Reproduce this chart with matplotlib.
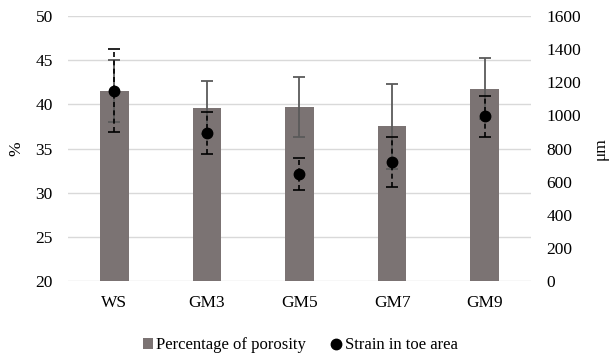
import numpy as np
import matplotlib
matplotlib.use('Agg')
import matplotlib.pyplot as plt
from matplotlib.lines import Line2D
from matplotlib.patches import Patch

# data
groups = ['WS', 'GM3', 'GM5', 'GM7', 'GM9']
porosity = [41.5, 39.6, 39.7, 37.5, 41.8]
porosity_err = [3.5, 3.0, 3.4, 4.8, 3.5]
strain = [1150, 895, 648, 720, 996]
strain_err = [250, 125, 96, 151, 124]

plt.rcParams['font.family'] = ['Liberation Serif', 'DejaVu Serif']
fs = 12.5

bar_color = '#7b7373'
err_color = '#5a5a5a'
grid_color = '#d9d9d9'

fig = plt.figure(figsize=(6.14, 3.58), dpi=100)
ax = fig.add_axes([0.1107, 0.215, 0.7541, 0.740])

x = np.arange(len(groups))
ax.bar(x, porosity, width=0.31, color=bar_color, zorder=2)
ax.errorbar(x, porosity, yerr=porosity_err, fmt='none', ecolor=err_color,
            elinewidth=1.3, capsize=4, capthick=1.3, zorder=3)

ax.set_xlim(-0.5, len(groups) - 0.5)
ax.set_ylim(20, 50)
ax.set_yticks(np.arange(20, 51, 5))
ax.set_xticks(x)
ax.set_xticklabels(groups)
ax.grid(axis='y', color=grid_color, lw=1, zorder=0)
ax.set_axisbelow(True)
ax.tick_params(axis='both', length=0, labelsize=fs)
ax.tick_params(axis='y', pad=11)
ax.tick_params(axis='x', pad=10)
for s in ax.spines.values():
    s.set_visible(False)
ax.set_ylabel('%', fontsize=fs, labelpad=8)

# secondary axis for strain
ax2 = ax.twinx()
ax2.errorbar(x, strain, yerr=strain_err, fmt='o', color='black', ms=7.5,
             ecolor='black', elinewidth=1.2, capsize=4, capthick=1.2,
             ls='none', zorder=4)[2][0].set_linestyle((0, (3, 2)))
ax2.set_ylim(0, 1600)
ax2.set_yticks(np.arange(0, 1601, 200))
ax2.tick_params(axis='y', length=0, labelsize=fs, pad=11)
for s in ax2.spines.values():
    s.set_visible(False)
ax2.set_ylabel('μm', fontsize=fs, labelpad=8)

handles = [
    Patch(facecolor=bar_color, edgecolor='none', label='Percentage of porosity'),
    Line2D([], [], marker='o', color='black', ls='none', ms=7.5, label='Strain in toe area'),
]
fig.legend(handles=handles, loc='center', bbox_to_anchor=(0.489, 0.035), ncol=2,
           frameon=False, fontsize=12, handlelength=0.6, handletextpad=0.2,
           columnspacing=1.5)

plt.savefig('out.png', dpi=100)
